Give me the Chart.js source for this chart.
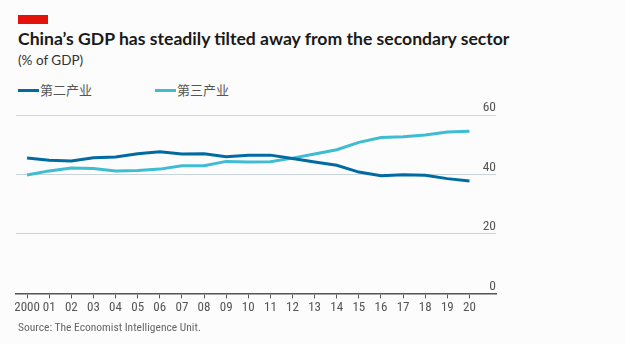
<!DOCTYPE html>
<html>
<head>
<meta charset="utf-8">
<script src="https://cdn.jsdelivr.net/npm/chart.js@4/dist/chart.umd.min.js"></script>
<style>
  html, body { margin: 0; padding: 0; background: #fcfcfc; }
  #wrap { position: relative; width: 625px; height: 344px; overflow: hidden; font-family: Lato, "Open Sans", sans-serif; }
  #flag { position: absolute; left: 18px; top: 15px; width: 30px; height: 9px; background: #e3120b; }
  #title { position: absolute; left: 18px; top: 28px; font-size: 17.6px; font-weight: 700; color: #1a1a1a; white-space: nowrap; }
  #sub { position: absolute; left: 18px; top: 52px; font-size: 13.5px; color: #333; }
  #legend { position: absolute; left: 18px; top: 80px; font-size: 13px; color: #555; font-family: "Noto Sans CJK SC", sans-serif; }
  .item { position: absolute; top: 0; white-space: nowrap; }
  .swatch { display: inline-block; width: 21px; height: 3px; vertical-align: middle; margin-right: 1px; position: relative; top: -1px; }
  #source { position: absolute; left: 18px; top: 320px; font-size: 11.5px; color: #666; font-family: "Roboto Condensed", Roboto, sans-serif; }
  #chart { position: absolute; left: 0; top: 90px; }
</style>
</head>
<body>
<div id="wrap">
  <div id="flag"></div>
  <div id="title">China’s GDP has steadily tilted away from the secondary sector</div>
  <div id="sub">(% of GDP)</div>
  <div id="legend"></div>
  <canvas id="chart" width="625" height="232"></canvas>
  <div id="source">Source: The Economist Intelligence Unit.</div>
</div>
<script>
// years 2000-2020, shown as 2000, 01, 02 ... 20
const years = [2000, 2001, 2002, 2003, 2004, 2005, 2006, 2007, 2008, 2009, 2010,
               2011, 2012, 2013, 2014, 2015, 2016, 2017, 2018, 2019, 2020];
const seriesNames = ['第二产业', '第三产业'];
const secondary = [45.5, 44.8, 44.5, 45.6, 45.9, 47.0, 47.6, 46.9, 47.0, 46.0, 46.5,
                   46.5, 45.4, 44.2, 43.1, 40.8, 39.6, 39.9, 39.7, 38.6, 37.8];
const tertiary = [39.8, 41.2, 42.2, 42.0, 41.2, 41.3, 41.8, 42.9, 42.9, 44.4, 44.2,
                  44.3, 45.5, 46.9, 48.3, 50.8, 52.4, 52.7, 53.3, 54.3, 54.5];
const yTicks = [0, 20, 40, 60];

const colors = ['#006ba2', '#3ebcd2'];

// legend
const legend = document.getElementById('legend');
const legendX = [0, 137];
seriesNames.forEach((name, i) => {
  const el = document.createElement('span');
  el.className = 'item';
  el.style.left = legendX[i] + 'px';
  el.innerHTML = '<span class="swatch" style="background:' + colors[i] + '"></span>' + name;
  legend.appendChild(el);
});

const toPoints = (vals) => vals.map((v, i) => ({ x: years[i] - 2000, y: v }));
const condensed = '"Roboto Condensed", Roboto, sans-serif';

new Chart(document.getElementById('chart'), {
  type: 'line',
  data: {
    datasets: [
      { label: seriesNames[0], data: toPoints(secondary), borderColor: colors[0], borderWidth: 3, pointRadius: 0, tension: 0 },
      { label: seriesNames[1], data: toPoints(tertiary), borderColor: colors[1], borderWidth: 3, pointRadius: 0, tension: 0 },
    ],
  },
  options: {
    responsive: false,
    animation: false,
    layout: { padding: { left: 16, right: 129, top: 25, bottom: 4 } },
    plugins: { legend: { display: false }, tooltip: { enabled: false } },
    scales: {
      x: {
        type: 'linear',
        min: -0.5,
        max: 21.2,
        afterBuildTicks: (scale) => { scale.ticks = years.map((y) => ({ value: y - 2000 })); },
        grid: { drawOnChartArea: false, drawTicks: true, tickLength: 5, color: '#555', lineWidth: 1 },
        border: { display: true, color: '#555', width: 1.5 },
        ticks: {
          color: '#555',
          padding: 2,
          maxRotation: 0,
          autoSkip: false,
          font: { family: condensed, size: 13 },
          callback: (v) => (v === 0 ? '2000' : String(v).padStart(2, '0')),
        },
      },
      y: {
        position: 'right',
        min: 0,
        max: 60,
        afterBuildTicks: (scale) => { scale.ticks = yTicks.map((v) => ({ value: v })); },
        grid: { drawTicks: false, color: '#c9d3dc', lineWidth: 1 },
        border: { display: false },
        ticks: {
          mirror: true,
          padding: 0,
          labelOffset: -7,
          color: '#555',
          font: { family: condensed, size: 13.5 },
        },
      },
    },
  },
});
</script>
</body>
</html>
